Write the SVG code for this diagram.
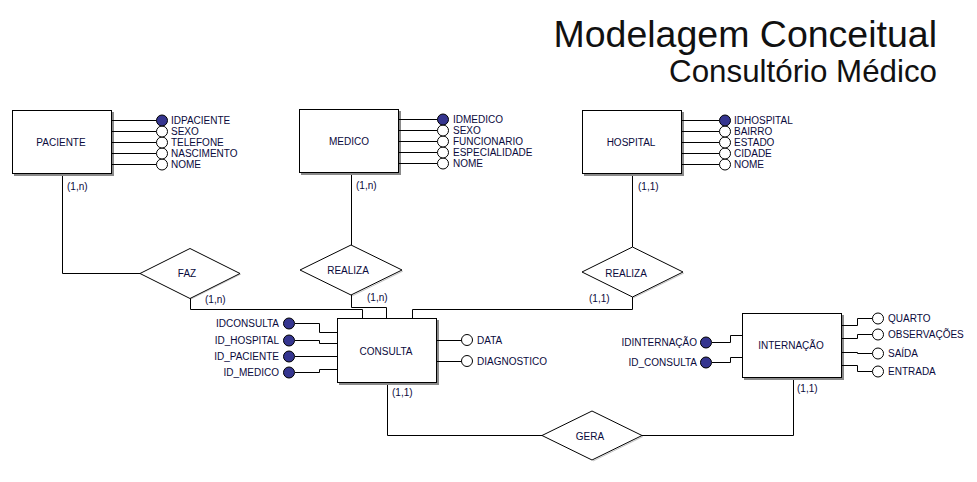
<svg xmlns="http://www.w3.org/2000/svg" width="977" height="482" viewBox="0 0 977 482">
<defs>
<style>
.t{font-family:"Liberation Sans",Arial,sans-serif;font-size:10px;fill:#0a0a3c}
.m{text-anchor:middle}
.e{text-anchor:end}
.box{fill:#fff;stroke:#000;stroke-width:1}
.sh{fill:#8a8a8a}
.dia{fill:#fff;stroke:#000;stroke-width:1}
.dsh{fill:none;stroke:#c4c4c4;stroke-width:1}
.ln{fill:none;stroke:#000;stroke-width:1}
.ao{fill:#fff;stroke:#000;stroke-width:1}
.af{fill:#35358f;stroke:#000;stroke-width:1}
.title{font-family:"Liberation Sans",Arial,sans-serif;fill:#111;text-anchor:end}
</style>
</defs>
<rect width="977" height="482" fill="#fff"/>

<g id="title">
<text class="title" x="937" y="47" font-size="37.5">Modelagem Conceitual</text>
<text class="title" x="937" y="82" font-size="31.3">Consultório Médico</text>
</g>

<g id="connectors">
<path class="ln" d="M62.5 173 V273.5 H140"/>
<path class="ln" d="M190.5 298 V309.5 H362.5 V318"/>
<path class="ln" d="M351.5 172 V245"/>
<path class="ln" d="M351.5 295 V307.5 H386.5 V318"/>
<path class="ln" d="M632.5 173 V247"/>
<path class="ln" d="M632.5 297 V309.5 H412.5 V318"/>
<path class="ln" d="M387.5 382 V435.5 H542"/>
<path class="ln" d="M642 435.5 H793.5 V377"/>
<text class="t" x="67" y="190">(1,n)</text>
<text class="t" x="205" y="303">(1,n)</text>
<text class="t" x="356" y="189">(1,n)</text>
<text class="t" x="367" y="301">(1,n)</text>
<text class="t" x="638" y="190">(1,1)</text>
<text class="t" x="589" y="302">(1,1)</text>
<text class="t" x="392" y="396">(1,1)</text>
<text class="t" x="797" y="392">(1,1)</text>
</g>

<g id="paciente">
<rect class="sh" x="14" y="112" width="100" height="64"/>
<rect class="box" x="12.5" y="110.5" width="99" height="63"/>
<text class="t m" x="61" y="146">PACIENTE</text>
<path class="ln" d="M111 120.5 H156.5 M111 131.5 H156.5 M111 142.5 H156.5 M111 153.5 H156.5 M111 164.5 H156.5"/>
<circle class="ao" cx="162" cy="164.5" r="5.5"/>
<circle class="ao" cx="162" cy="153.5" r="5.5"/>
<circle class="ao" cx="162" cy="142.5" r="5.5"/>
<circle class="ao" cx="162" cy="131.5" r="5.5"/>
<circle class="af" cx="162" cy="120.5" r="5.5"/>
<text class="t" x="171" y="124">IDPACIENTE</text>
<text class="t" x="171" y="135">SEXO</text>
<text class="t" x="171" y="146">TELEFONE</text>
<text class="t" x="171" y="157">NASCIMENTO</text>
<text class="t" x="171" y="168">NOME</text>
</g>

<g id="medico">
<rect class="sh" x="301" y="111" width="100" height="64"/>
<rect class="box" x="299.5" y="109.5" width="99" height="63"/>
<text class="t m" x="349" y="145">MEDICO</text>
<path class="ln" d="M398 119.5 H437.5 M398 130.5 H437.5 M398 141.5 H437.5 M398 152.5 H437.5 M398 163.5 H437.5"/>
<circle class="ao" cx="443" cy="163.5" r="5.5"/>
<circle class="ao" cx="443" cy="152.5" r="5.5"/>
<circle class="ao" cx="443" cy="141.5" r="5.5"/>
<circle class="ao" cx="443" cy="130.5" r="5.5"/>
<circle class="af" cx="443" cy="119.5" r="5.5"/>
<text class="t" x="453" y="123">IDMEDICO</text>
<text class="t" x="453" y="134">SEXO</text>
<text class="t" x="453" y="145">FUNCIONARIO</text>
<text class="t" x="453" y="156">ESPECIALIDADE</text>
<text class="t" x="453" y="167">NOME</text>
</g>

<g id="hospital">
<rect class="sh" x="584" y="112" width="100" height="64"/>
<rect class="box" x="582.5" y="110.5" width="99" height="63"/>
<text class="t m" x="631" y="146">HOSPITAL</text>
<path class="ln" d="M681 120.5 H719.5 M681 131.5 H719.5 M681 142.5 H719.5 M681 153.5 H719.5 M681 164.5 H719.5"/>
<circle class="ao" cx="725" cy="164.5" r="5.5"/>
<circle class="ao" cx="725" cy="153.5" r="5.5"/>
<circle class="ao" cx="725" cy="142.5" r="5.5"/>
<circle class="ao" cx="725" cy="131.5" r="5.5"/>
<circle class="af" cx="725" cy="120.5" r="5.5"/>
<text class="t" x="734" y="124">IDHOSPITAL</text>
<text class="t" x="734" y="135">BAIRRO</text>
<text class="t" x="734" y="146">ESTADO</text>
<text class="t" x="734" y="157">CIDADE</text>
<text class="t" x="734" y="168">NOME</text>
</g>

<g id="faz">
<polyline class="dsh" points="241,274 191,299"/>
<polygon class="dia" points="140,273.5 190,248.5 240,273.5 190,298.5"/>
<text class="t m" x="187" y="277">FAZ</text>
</g>

<g id="realiza-medico">
<polyline class="dsh" points="403,271 352,296"/>
<polygon class="dia" points="300,270 351,245 402,270 351,295"/>
<text class="t m" x="348" y="274">REALIZA</text>
</g>

<g id="realiza-hospital">
<polyline class="dsh" points="684,273 633,298"/>
<polygon class="dia" points="582,272 632.5,247 683,272 632.5,297"/>
<text class="t m" x="626" y="277">REALIZA</text>
</g>

<g id="gera">
<polyline class="dsh" points="643,436.5 593,461"/>
<polygon class="dia" points="542,435.5 592,411 642,435.5 592,460"/>
<text class="t m" x="590" y="440">GERA</text>
</g>

<g id="consulta">
<rect class="sh" x="339" y="320" width="100" height="65"/>
<rect class="box" x="337.5" y="318.5" width="99" height="64"/>
<text class="t m" x="386" y="355">CONSULTA</text>
<path class="ln" d="M295 323.5 H319.5 V332.5 H337 M295 340.5 H319.5 V343.5 H337 M295 356.5 H337 M295 372.5 H319.5 V369.5 H337"/>
<circle class="af" cx="289" cy="323.5" r="5.5"/>
<circle class="af" cx="289" cy="340.5" r="5.5"/>
<circle class="af" cx="289" cy="356.5" r="5.5"/>
<circle class="af" cx="289" cy="372.5" r="5.5"/>
<text class="t e" x="279" y="327">IDCONSULTA</text>
<text class="t e" x="279" y="344">ID_HOSPITAL</text>
<text class="t e" x="279" y="360">ID_PACIENTE</text>
<text class="t e" x="279" y="376">ID_MEDICO</text>
<path class="ln" d="M436 340.5 H461.5 M436 361.5 H461.5"/>
<circle class="ao" cx="467" cy="340" r="5.5"/>
<circle class="ao" cx="467" cy="361" r="5.5"/>
<text class="t" x="477" y="343.5">DATA</text>
<text class="t" x="477" y="364.5">DIAGNOSTICO</text>
</g>

<g id="internacao">
<rect class="sh" x="744" y="315" width="100" height="65"/>
<rect class="box" x="742.5" y="313.5" width="99" height="64"/>
<text class="t m" x="791" y="349">INTERNAÇÃO</text>
<path class="ln" d="M712 342.5 H730.5 V335.5 H742 M712 362.5 H730.5 V357.5 H742"/>
<circle class="af" cx="706" cy="342.5" r="5.5"/>
<circle class="af" cx="706" cy="362.5" r="5.5"/>
<text class="t e" x="697" y="346">IDINTERNAÇÃO</text>
<text class="t e" x="697" y="366">ID_CONSULTA</text>
<path class="ln" d="M841 325.5 H857.5 V318.5 H872.5 M841 338.5 H857.5 V334.5 H872.5 M841 352.5 H857.5 V353.5 H872.5 M841 365.5 H857.5 V371.5 H872.5"/>
<circle class="ao" cx="878" cy="318.5" r="5.5"/>
<circle class="ao" cx="878" cy="334.5" r="5.5"/>
<circle class="ao" cx="878" cy="353.5" r="5.5"/>
<circle class="ao" cx="878" cy="371.5" r="5.5"/>
<text class="t" x="888" y="322">QUARTO</text>
<text class="t" x="888" y="338">OBSERVAÇÕES</text>
<text class="t" x="888" y="357">SAÍDA</text>
<text class="t" x="888" y="375">ENTRADA</text>
</g>
</svg>
